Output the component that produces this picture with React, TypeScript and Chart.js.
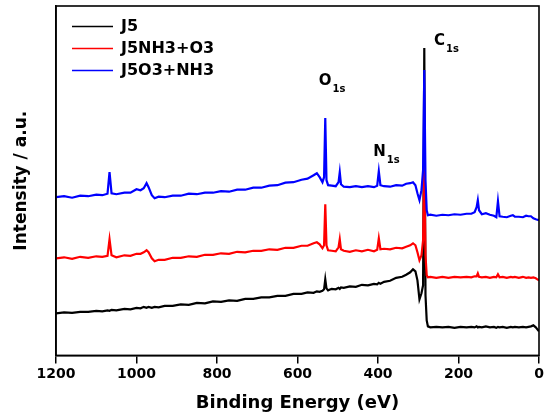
import React, { useEffect, useRef } from "react";
import { Chart, registerables } from "chart.js";
Chart.register(...registerables);

// Binding energy grid (eV), descending
const energies = [
  1200, 1180, 1160, 1140, 1120, 1100, 1085, 1072, 1067, 1062,
  1050, 1030, 1015, 1000, 990, 982, 975, 970, 962, 955,
  945, 930, 910, 890, 870, 850, 830, 810, 790, 770,
  750, 730, 710, 690, 670, 650, 630, 610, 590, 575,
  560, 552, 545, 538, 534, 531, 528, 524, 515, 505,
  498, 495, 492, 485, 470, 455, 440, 425, 410, 402,
  398, 394, 385, 370, 355, 340, 330, 320, 313, 307,
  302, 297, 292, 288, 285, 282, 279, 276, 270, 255,
  240, 225, 210, 195, 180, 168, 160, 155, 152, 149,
  142, 132, 122, 112, 106, 102, 98, 90, 80, 70,
  65, 60, 50, 40, 32, 26, 20, 14, 8, 4,
  0,
];

const j5 = [
  42, 43, 42.5, 43.5, 43.5, 44.5, 44, 45, 44.5, 45.5,
  45, 46.5, 46, 47.5, 47, 48.5, 47.5, 48.5, 47.5, 48.5,
  48, 49.5, 49.5, 51, 50.5, 52.5, 52, 54, 53.5, 55,
  54.5, 56.5, 56.5, 58, 58, 59.5, 59.5, 61.5, 61.5, 63,
  62.5, 64, 63.5, 64.5, 66, 76, 67, 65, 66.5, 66,
  67.5, 66.5, 68, 67.5, 69, 68.5, 70.5, 70, 71.5, 71,
  72.5, 71.5, 73.5, 74.5, 77.5, 78.5, 80.5, 83, 86, 84,
  75, 56, 62, 70, 307, 60, 35, 29, 28, 28.5,
  28, 28.5, 27.5, 28.5, 28, 28.5, 28, 29, 28, 28.5,
  28, 29, 28, 28.5, 27.5, 28.5, 28, 28.5, 27.5, 28.5,
  28, 28.5, 28, 28.5, 28, 28.5, 29, 30, 28, 26,
  24,
];

const j5nh3o3 = [
  97, 98, 96.5, 98.5, 97.5, 99, 98.5, 99.5, 116, 100,
  98, 100, 99.5, 101.5, 101.5, 103, 105, 103, 97, 94,
  95.5, 95.5, 97.5, 97.5, 99, 98.5, 100.5, 100.5, 102, 101.5,
  103.5, 103, 104.5, 104.5, 106, 105.5, 107.5, 107.5, 109.5, 109.5,
  112, 113, 111, 107, 110, 151, 110, 105, 104.5, 104,
  108, 116, 106, 104.5, 103.5, 105, 104, 105.5, 104, 105.5,
  117, 106, 106.5, 106, 107.5, 107, 108.5, 110, 112, 110,
  103, 95, 100, 115, 190, 100, 80, 78, 78.5, 77.5,
  78.5, 77.5, 78.5, 78, 78.5, 78, 79, 79, 82, 78.5,
  78, 78.5, 77.5, 78.5, 78, 81, 78, 78.5, 77.5, 78.5,
  78, 78.5, 77.5, 78.5, 77.5, 78, 77.5, 78, 77, 76,
  75,
];

const j5o3nh3 = [
  158, 159, 157.5, 159.5, 159, 160.5, 160, 161.5, 183, 162,
  161, 162.5, 162.5, 166, 165, 167, 172, 168, 160, 157,
  158.5, 158, 159.5, 159.5, 161.5, 161, 162.5, 162.5, 164, 163.5,
  165.5, 165.5, 167.5, 167.5, 169.5, 170, 172.5, 173, 175.5, 176.5,
  180, 182, 178, 173, 178, 237, 175, 170, 169.5, 169,
  173, 183, 171, 168.5, 168, 169, 168, 169, 168, 169.5,
  184, 170, 169, 168.5, 170, 169.5, 171.5, 172, 173, 170,
  162, 155, 165, 185, 285, 175, 145, 140, 140.5, 139.5,
  140.5, 140, 141, 140.5, 141.5, 141.5, 143, 148, 155, 145,
  141, 142, 140.5, 139.5, 138, 154, 139, 138.5, 138, 139.5,
  140, 138.5, 138.5, 138, 139.5, 139, 139, 137, 136, 135.5,
  135,
];

const seriesNames = ["J5", "J5NH3+O3", "J5O3+NH3"];
const xTicks = [1200, 1000, 800, 600, 400, 200, 0];

// Peak annotations in data coordinates (energy, intensity)
const peakMain = ["O", "N", "C"];
const peakSub = ["1s", "1s", "1s"];
const peakEnergy = [547, 412, 261];
const peakIntensity = [273.5, 203, 314];

const FONT = "'DejaVu Sans', 'Liberation Sans', Arial, sans-serif";

const toXY = (vals: number[]) => energies.map((e, i) => ({ x: e, y: vals[i] }));

const framePlugin = {
  id: "frame",
  afterDraw(chart: any) {
    const { ctx, chartArea } = chart;
    ctx.save();
    ctx.strokeStyle = "#000";
    ctx.lineWidth = 1.6;
    ctx.strokeRect(chartArea.left, chartArea.top, chartArea.right - chartArea.left, chartArea.bottom - chartArea.top);
    ctx.restore();
  },
};

const peakPlugin = {
  id: "peaks",
  afterDraw(chart: any) {
    const { ctx, scales } = chart;
    ctx.save();
    ctx.fillStyle = "#000";
    ctx.textBaseline = "middle";
    ctx.textAlign = "left";
    for (let i = 0; i < peakMain.length; i++) {
      const x = scales.x.getPixelForValue(peakEnergy[i]);
      const y = scales.y.getPixelForValue(peakIntensity[i]);
      ctx.font = `bold 15px ${FONT}`;
      ctx.fillText(peakMain[i], x, y);
      const w = ctx.measureText(peakMain[i]).width;
      ctx.font = `bold 10px ${FONT}`;
      ctx.fillText(peakSub[i], x + w + 1, y + 8);
    }
    ctx.restore();
  },
};

const legendShift = {
  id: "legendShift",
  afterLayout(chart: any) {
    const lg = chart.legend;
    if (lg) {
      lg.left += 10;
      lg.top += 12.5;
    }
  },
};

export default function App() {
  const ref = useRef<HTMLCanvasElement | null>(null);
  useEffect(() => {
    if (!ref.current) return;
    const chart = new Chart(ref.current, {
      type: "line",
      data: {
        datasets: [
          { label: seriesNames[0], data: toXY(j5), borderColor: "#000000", backgroundColor: "#000000", borderWidth: 2.2, pointRadius: 0, order: 3 },
          { label: seriesNames[1], data: toXY(j5nh3o3), borderColor: "#ff0000", backgroundColor: "#ff0000", borderWidth: 2.2, pointRadius: 0, order: 2 },
          { label: seriesNames[2], data: toXY(j5o3nh3), borderColor: "#0000ff", backgroundColor: "#0000ff", borderWidth: 2.2, pointRadius: 0, order: 1 },
        ],
      },
      options: {
        animation: false,
        responsive: true,
        maintainAspectRatio: false,
        layout: { padding: { left: 0, right: 8, top: 6, bottom: 0 } },
        elements: { line: { tension: 0 } },
        plugins: {
          tooltip: { enabled: false },
          legend: {
            position: "chartArea" as any,
            align: "start",
            labels: {
              usePointStyle: true,
              pointStyle: "line",
              pointStyleWidth: 41,
              padding: 6,
              color: "#000",
              font: { family: FONT, size: 16, weight: "bold" },
              sort: (a: any, b: any) => a.datasetIndex - b.datasetIndex,
              generateLabels: (chart: any) =>
                (Chart.defaults.plugins.legend.labels as any)
                  .generateLabels(chart)
                  .map((l: any) => ({ ...l, lineWidth: 1.6 })),
            },
          },
        },
        scales: {
          x: {
            type: "linear",
            reverse: true,
            min: 0,
            max: 1200,
            afterBuildTicks: (axis: any) => {
              axis.ticks = xTicks.map((v) => ({ value: v }));
            },
            ticks: {
              color: "#000",
              padding: 3,
              autoSkip: false,
              maxRotation: 0,
              font: { family: FONT, size: 14, weight: "bold" },
              callback: (v: any) => String(v),
            },
            grid: { display: true, drawOnChartArea: false, drawTicks: true, tickLength: 8, color: "#000", lineWidth: 1.5 },
            border: { display: true, color: "#000", width: 1.6 },
            title: {
              display: true,
              text: "Binding Energy (eV)",
              color: "#000",
              font: { family: FONT, size: 18, weight: "bold" },
              padding: { top: 6, bottom: 3.2 },
            },
          },
          y: {
            type: "linear",
            min: 0,
            max: 349,
            ticks: { display: false },
            grid: { display: false, drawTicks: false },
            border: { display: true, color: "#000", width: 1.6 },
            title: {
              display: true,
              text: "Intensity / a.u.",
              color: "#000",
              font: { family: FONT, size: 17, weight: "bold" },
              padding: { top: 11.3, bottom: 24.3 },
            },
          },
        },
      },
      plugins: [framePlugin, peakPlugin, legendShift],
    });
    return () => chart.destroy();
  }, []);
  return (
    <div style={{ position: "absolute", left: 0, top: 0, width: 547, height: 417 }}>
      <canvas ref={ref} />
    </div>
  );
}
